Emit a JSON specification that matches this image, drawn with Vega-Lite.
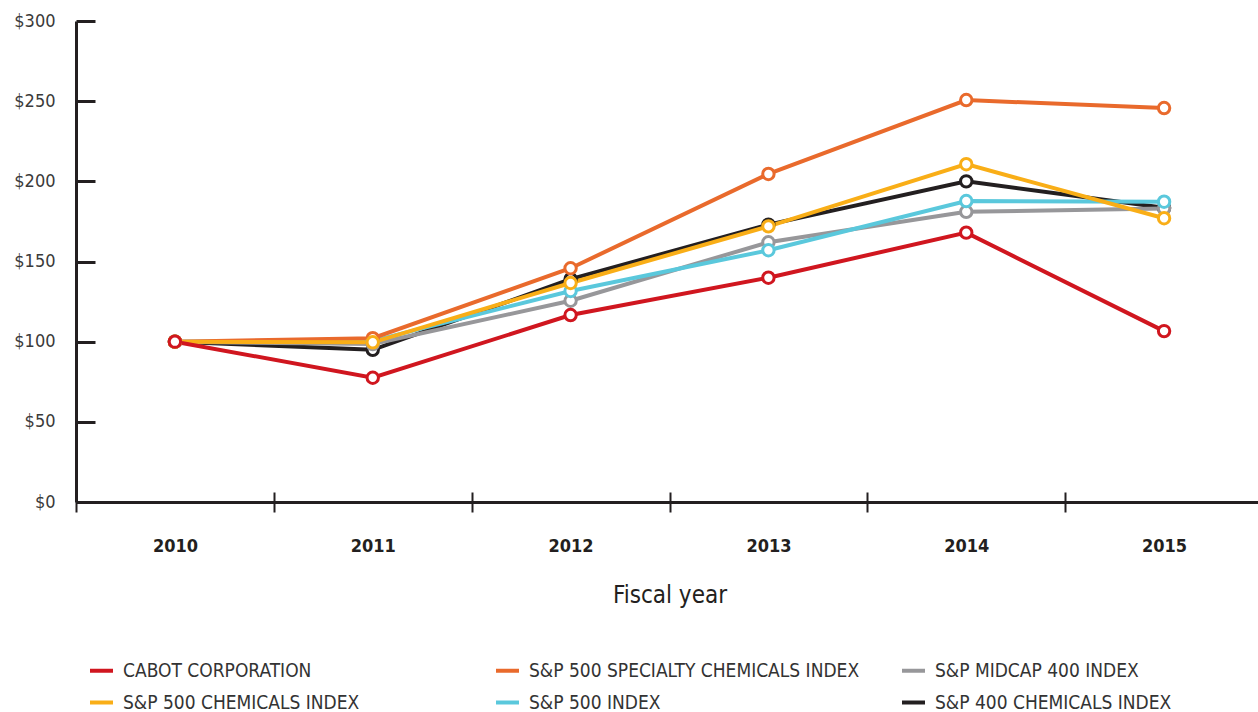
{
  "$schema": "https://vega.github.io/schema/vega-lite/v6.json",
  "autosize": {"type": "none"},
  "padding": {"left": 76, "top": 21, "right": 0, "bottom": 210},
  "width": 1187,
  "height": 481,
  "background": "white",
  "config": {
    "view": {"stroke": null},
    "font": "DejaVu Sans Condensed, Roboto, sans-serif"
  },
  "data": {
    "values": [
      {"year": "2010", "series": "S&P 400 CHEMICALS INDEX", "value": 100},
      {"year": "2011", "series": "S&P 400 CHEMICALS INDEX", "value": 94.9},
      {"year": "2012", "series": "S&P 400 CHEMICALS INDEX", "value": 139},
      {"year": "2013", "series": "S&P 400 CHEMICALS INDEX", "value": 173},
      {"year": "2014", "series": "S&P 400 CHEMICALS INDEX", "value": 200},
      {"year": "2015", "series": "S&P 400 CHEMICALS INDEX", "value": 183.5},
      {"year": "2010", "series": "S&P MIDCAP 400 INDEX", "value": 100},
      {"year": "2011", "series": "S&P MIDCAP 400 INDEX", "value": 98.5},
      {"year": "2012", "series": "S&P MIDCAP 400 INDEX", "value": 125.5},
      {"year": "2013", "series": "S&P MIDCAP 400 INDEX", "value": 162},
      {"year": "2014", "series": "S&P MIDCAP 400 INDEX", "value": 181},
      {"year": "2015", "series": "S&P MIDCAP 400 INDEX", "value": 183},
      {"year": "2010", "series": "S&P 500 INDEX", "value": 100},
      {"year": "2011", "series": "S&P 500 INDEX", "value": 100.5},
      {"year": "2012", "series": "S&P 500 INDEX", "value": 131.6},
      {"year": "2013", "series": "S&P 500 INDEX", "value": 157},
      {"year": "2014", "series": "S&P 500 INDEX", "value": 187.7},
      {"year": "2015", "series": "S&P 500 INDEX", "value": 187.3},
      {"year": "2010", "series": "S&P 500 SPECIALTY CHEMICALS INDEX", "value": 100},
      {"year": "2011", "series": "S&P 500 SPECIALTY CHEMICALS INDEX", "value": 102.2},
      {"year": "2012", "series": "S&P 500 SPECIALTY CHEMICALS INDEX", "value": 145.8},
      {"year": "2013", "series": "S&P 500 SPECIALTY CHEMICALS INDEX", "value": 204.6},
      {"year": "2014", "series": "S&P 500 SPECIALTY CHEMICALS INDEX", "value": 250.7},
      {"year": "2015", "series": "S&P 500 SPECIALTY CHEMICALS INDEX", "value": 245.7},
      {"year": "2010", "series": "S&P 500 CHEMICALS INDEX", "value": 100},
      {"year": "2011", "series": "S&P 500 CHEMICALS INDEX", "value": 99.6},
      {"year": "2012", "series": "S&P 500 CHEMICALS INDEX", "value": 136.6},
      {"year": "2013", "series": "S&P 500 CHEMICALS INDEX", "value": 171.9},
      {"year": "2014", "series": "S&P 500 CHEMICALS INDEX", "value": 210.7},
      {"year": "2015", "series": "S&P 500 CHEMICALS INDEX", "value": 177},
      {"year": "2010", "series": "CABOT CORPORATION", "value": 100},
      {"year": "2011", "series": "CABOT CORPORATION", "value": 77.5},
      {"year": "2012", "series": "CABOT CORPORATION", "value": 116.6},
      {"year": "2013", "series": "CABOT CORPORATION", "value": 139.9},
      {"year": "2014", "series": "CABOT CORPORATION", "value": 168},
      {"year": "2015", "series": "CABOT CORPORATION", "value": 106.6}
    ]
  },
  "resolve": {"axis": {"x": "independent"}},
  "layer": [
    {
      "mark": {"type": "line", "strokeWidth": 4},
      "encoding": {
        "x": {
          "field": "year", "type": "ordinal",
          "scale": {"paddingInner": 0, "paddingOuter": 0},
          "axis": {
            "orient": "bottom",
            "title": "Fiscal year",
            "titleFontSize": 24,
            "titleFontWeight": "normal",
            "titleColor": "#231f20",
            "titlePadding": 28,
            "labelAngle": 0,
            "labelFontSize": 18,
            "labelFontWeight": "bold",
            "labelColor": "#231f20",
            "labelPadding": 25,
            "tickBand": "extent",
            "tickSize": 10,
            "tickWidth": 2,
            "tickColor": "#231f20",
            "domainWidth": 3,
            "domainColor": "#231f20"
          }
        },
        "y": {
          "field": "value", "type": "quantitative",
          "scale": {"domain": [0, 300]},
          "axis": {
            "title": null,
            "values": [0, 50, 100, 150, 200, 250, 300],
            "labelExpr": "'$' + datum.value",
            "labelFontSize": 18,
            "labelColor": "#3a3a3a",
            "labelPadding": 40,
            "grid": false,
            "tickSize": -19,
            "tickWidth": 3,
            "tickColor": "#231f20",
            "domainWidth": 3,
            "domainColor": "#231f20"
          }
        },
        "color": {
          "field": "series", "type": "nominal",
          "scale": {
            "domain": ["CABOT CORPORATION", "S&P 500 SPECIALTY CHEMICALS INDEX", "S&P MIDCAP 400 INDEX", "S&P 500 CHEMICALS INDEX", "S&P 500 INDEX", "S&P 400 CHEMICALS INDEX"],
            "range": ["#d0161f", "#e96a2c", "#97979a", "#f9ae17", "#5ac8dc", "#231f20"]
          },
          "legend": {
            "title": null,
            "orient": "none",
            "legendX": 12,
            "legendY": 636,
            "direction": "horizontal",
            "columns": 3,
            "gridAlign": "all",
            "columnPadding": 34,
            "rowPadding": 8,
            "symbolType": "stroke",
            "symbolStrokeWidth": 4,
            "symbolSize": 529,
            "labelOffset": 8,
            "labelFontSize": 19,
            "labelColor": "#333333",
            "labelLimit": 500
          }
        }
      }
    },
    {
      "mark": {"type": "point", "shape": "circle", "filled": true, "fill": "white", "strokeWidth": 3, "size": 130, "opacity": 1},
      "encoding": {
        "x": {
          "field": "year", "type": "ordinal",
          "axis": {
            "orient": "top",
            "offset": -481,
            "title": null,
            "labels": false,
            "domain": false,
            "tickBand": "extent",
            "tickSize": 10,
            "tickWidth": 2,
            "tickColor": "#231f20"
          }
        },
        "y": {"field": "value", "type": "quantitative"},
        "stroke": {
          "field": "series", "type": "nominal",
          "scale": {
            "domain": ["CABOT CORPORATION", "S&P 500 SPECIALTY CHEMICALS INDEX", "S&P MIDCAP 400 INDEX", "S&P 500 CHEMICALS INDEX", "S&P 500 INDEX", "S&P 400 CHEMICALS INDEX"],
            "range": ["#d0161f", "#e96a2c", "#97979a", "#f9ae17", "#5ac8dc", "#231f20"]
          },
          "legend": null
        }
      }
    }
  ]
}
